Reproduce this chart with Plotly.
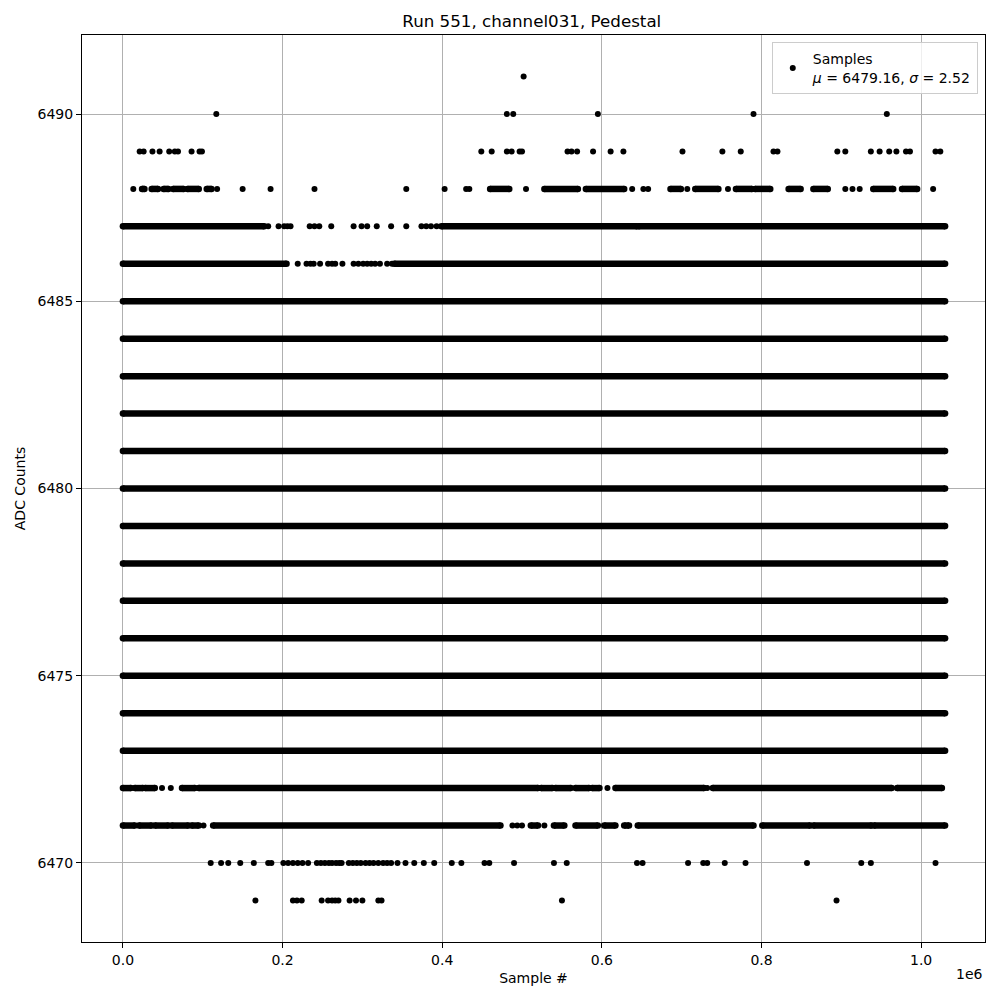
import plotly.graph_objects as go

# Pedestal samples of run 551, channel031.
# Each ADC level holds continuous runs (start, end sample) and isolated samples.
last_sample = 1_030_000

levels = [6469, 6470, 6471, 6472, 6473, 6474, 6475, 6476, 6477, 6478, 6479,
          6480, 6481, 6482, 6483, 6484, 6485, 6486, 6487, 6488, 6489, 6490, 6491]

runs = {
    6471: [(0, 15e3), (20e3, 36e3), (40e3, 57e3), (61e3, 82e3), (86e3, 95e3),
           (113e3, 473e3), (511e3, 520e3), (540e3, 553e3), (567e3, 595e3),
           (603e3, 617e3), (628e3, 634e3), (645e3, 790e3), (801e3, 861e3),
           (865e3, 938e3), (941e3, last_sample)],
    6472: [(0, 10e3), (15e3, 25e3), (28e3, 40e3), (74e3, 90e3), (95e3, 520e3),
           (524e3, 538e3), (542e3, 561e3), (567e3, 584e3), (588e3, 597e3),
           (617e3, 728e3), (739e3, 963e3), (970e3, 1026e3)],
    6486: [(0, 205e3), (340e3, last_sample)],
    6487: [(0, 177e3), (399e3, 644e3), (646e3, last_sample)],
    6488: [(24e3, 27e3), (36e3, 44e3), (51e3, 57e3), (63e3, 76e3), (81e3, 95e3),
           (105e3, 111e3), (460e3, 484e3), (528e3, 570e3), (580e3, 628e3),
           (686e3, 699e3), (717e3, 746e3), (768e3, 788e3), (792e3, 811e3),
           (834e3, 849e3), (865e3, 883e3), (940e3, 965e3), (976e3, 995e3)],
}
for lvl in range(6473, 6486):
    runs[lvl] = [(0, last_sample)]

isolated = {
    6469: [166e3, 213e3, 218e3, 224e3, 249e3, 257e3, 262e3, 266e3, 270e3, 284e3,
           292e3, 300e3, 320e3, 324e3, 550e3, 894e3],
    6470: [110e3, 123e3, 132e3, 147e3, 164e3, 182e3, 186e3, 201e3, 207e3, 213e3,
           219e3, 225e3, 232e3, 243e3, 248e3, 253e3, 258e3, 262e3, 267e3, 271e3,
           274e3, 283e3, 288e3, 293e3, 298e3, 304e3, 309e3, 314e3, 320e3, 326e3,
           331e3, 336e3, 344e3, 354e3, 365e3, 377e3, 390e3, 412e3, 424e3, 453e3,
           459e3, 490e3, 540e3, 556e3, 644e3, 651e3, 708e3, 727e3, 732e3, 754e3,
           780e3, 857e3, 925e3, 937e3, 1018e3],
    6471: [101e3, 488e3, 494e3, 500e3, 528e3],
    6472: [49e3, 60e3, 607e3, 732e3],
    6486: [219e3, 230e3, 235e3, 239e3, 247e3, 257e3, 262e3, 266e3, 275e3, 289e3,
           295e3, 301e3, 306e3, 311e3, 316e3, 322e3, 331e3, 337e3],
    6487: [182e3, 195e3, 202e3, 206e3, 210e3, 234e3, 240e3, 246e3, 261e3, 289e3,
           299e3, 306e3, 318e3, 336e3, 355e3, 374e3, 380e3, 386e3, 393e3],
    6488: [13e3, 118e3, 150e3, 185e3, 240e3, 355e3, 403e3, 430e3, 434e3, 505e3,
           532e3, 638e3, 652e3, 658e3, 707e3, 758e3, 905e3, 914e3, 923e3, 1015e3],
    6489: [21e3, 26e3, 37e3, 46e3, 58e3, 65e3, 69e3, 86e3, 96e3, 99e3, 449e3,
           462e3, 481e3, 487e3, 497e3, 500e3, 557e3, 562e3, 569e3, 589e3, 611e3,
           627e3, 701e3, 751e3, 774e3, 815e3, 820e3, 895e3, 905e3, 937e3, 948e3,
           960e3, 969e3, 981e3, 986e3, 1018e3, 1024e3],
    6490: [117e3, 481e3, 489e3, 595e3, 790e3, 957e3],
    6491: [502e3],
}

x_ticks = [0, 0.2e6, 0.4e6, 0.6e6, 0.8e6, 1.0e6]
x_tick_labels = ["0.0", "0.2", "0.4", "0.6", "0.8", "1.0"]
y_ticks = [6470, 6475, 6480, 6485, 6490]

# continuous runs: a thick line between the run ends, with dots as round caps
run_x, run_y = [], []
for lvl in levels:
    for start, end in runs.get(lvl, []):
        run_x += [start, end, None]
        run_y += [lvl, lvl, None]

dot_x, dot_y = [], []
for lvl in levels:
    for s in isolated.get(lvl, []):
        dot_x.append(s)
        dot_y.append(lvl)

font = "DejaVu Sans, Verdana, sans-serif"

fig = go.Figure()
fig.add_trace(go.Scatter(x=run_x, y=run_y, mode="lines+markers",
                         line=dict(color="black", width=6.5),
                         marker=dict(color="black", size=6.5),
                         showlegend=False, hoverinfo="skip"))
fig.add_trace(go.Scatter(x=dot_x, y=dot_y, mode="markers",
                         marker=dict(color="black", size=6),
                         name="Samples<br><i>μ</i> = 6479.16, <i>σ</i> = 2.52"))

axis_common = dict(showline=True, linecolor="black", linewidth=1, mirror=True,
                   showgrid=True, gridcolor="#b0b0b0", gridwidth=1,
                   ticks="outside", ticklen=5, tickcolor="black",
                   zeroline=False, tickfont=dict(size=14, color="black"))

fig.update_xaxes(range=[-0.05125e6, 1.08e6], tickvals=x_ticks, ticktext=x_tick_labels,
                 title=dict(text="Sample #", font=dict(size=14), standoff=6),
                 **axis_common)
fig.update_yaxes(range=[6467.89, 6492.11], tickvals=y_ticks,
                 title=dict(text="ADC Counts", font=dict(size=14), standoff=8),
                 **axis_common)

# page body has an 8 px margin, so the figure is 992 px and margins are shifted
fig.update_layout(
    width=992, height=992,
    margin=dict(l=72, r=15, t=27, b=58),
    plot_bgcolor="white", paper_bgcolor="white",
    font=dict(family=font, size=14, color="black"),
    title=dict(text="Run 551, channel031, Pedestal", x=0.528, xanchor="center",
               y=0.987, yanchor="middle", font=dict(size=16.7)),
    legend=dict(x=0.992, y=0.992, xanchor="right", yanchor="top",
                bordercolor="#cccccc", borderwidth=1,
                bgcolor="rgba(255,255,255,0.8)", font=dict(size=14)),
    annotations=[dict(text="1e6", xref="paper", yref="paper", x=1.0, y=-0.024,
                      xanchor="right", yanchor="top", showarrow=False,
                      font=dict(size=14))],
)

fig.write_html("out.html")
